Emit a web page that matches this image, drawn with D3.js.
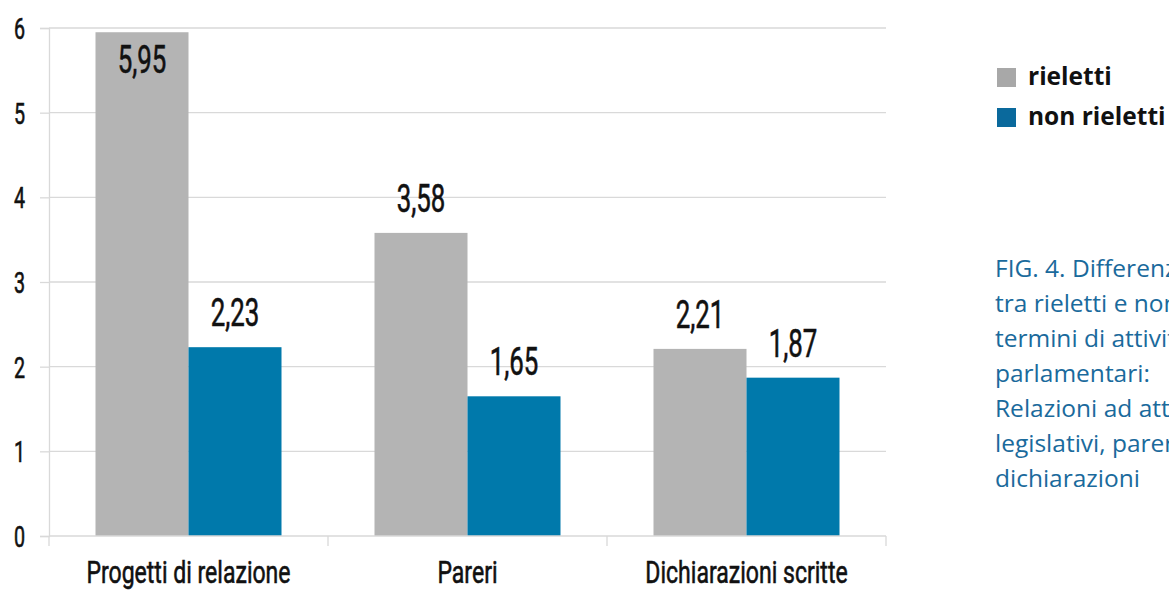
<!DOCTYPE html>
<html>
<head>
<meta charset="utf-8">
<script src="https://cdn.jsdelivr.net/npm/d3@7"></script>
<style>
  body { margin: 0; background: #fff; overflow: hidden; }
  svg { display: block; }
  .cond { font-family: Roboto, "DejaVu Sans", sans-serif; font-weight: 400; fill: #111; stroke: #111; stroke-width: 0.6px; }
</style>
</head>
<body>
<div id="chart"></div>
<script>
`use strict`;

const categories = [`Progetti di relazione`, `Pareri`, `Dichiarazioni scritte`];
const series = [`rieletti`, `non rieletti`];
const rieletti = [5.95, 3.58, 2.21];
const nonRieletti = [2.23, 1.65, 1.87];
const yTicks = [0, 1, 2, 3, 4, 5, 6];
const captionLines = [
  `FIG. 4. Differenze`,
  `tra rieletti e non rieletti in`,
  `termini di attività`,
  `parlamentari:`,
  `Relazioni ad atti`,
  `legislativi, pareri e`,
  `dichiarazioni`
];

(function () {

  const W = 1169, H = 592;
  const colors = [`#b4b4b4`, `#0079ab`];
  const legendColors = [`#a8a8a8`, `#0a699c`];
  const sx = 0.68; // narrow the glyphs, the original uses a condensed face

  let svg = d3.select(`#chart`).append(`svg`)
    .attr(`width`, W)
    .attr(`height`, H);

  let x = d3.scaleBand()
    .domain(categories)
    .range([49, 886])
    .paddingInner(0)
    .paddingOuter(0);

  let x1 = d3.scaleBand()
    .domain(series)
    .range([x.bandwidth() / 6, x.bandwidth() * 5 / 6]);

  let y = d3.scaleLinear()
    .domain([0, 6])
    .range([536, 28]);

  // gridlines
  svg.append(`g`).selectAll(`line`).data(yTicks.filter(d => d > 0))
    .enter()
    .append(`line`)
    .attr(`x1`, 49).attr(`x2`, 886)
    .attr(`y1`, d => y(d)).attr(`y2`, d => y(d))
    .attr(`stroke`, `#d9d9d9`)
    .attr(`stroke-width`, 1.3);

  // y axis
  let yAxis = svg.append(`g`)
    .attr(`transform`, `translate(49,0)`)
    .call(d3.axisLeft(y).tickValues(yTicks).tickSize(9).tickFormat(d3.format(`d`)));

  yAxis.select(`.domain`).attr(`stroke`, `#d9d9d9`).attr(`stroke-width`, 1.3);
  yAxis.selectAll(`.tick line`).attr(`stroke`, `#d9d9d9`).attr(`stroke-width`, 1.3);
  yAxis.selectAll(`.tick text`)
    .attr(`class`, `cond`)
    .attr(`x`, 0)
    .attr(`dy`, `0.36em`)
    .attr(`transform`, `translate(-24,0) scale(${sx},1)`)
    .style(`font-size`, `29px`)
    .attr(`fill`, `#111`);

  // bars
  let rows = categories.map((c, i) => ({ cat: c, vals: [rieletti[i], nonRieletti[i]] }));

  let groups = svg.append(`g`).selectAll(`g`).data(rows)
    .enter()
    .append(`g`)
    .attr(`transform`, d => `translate(${x(d.cat)},0)`);

  let cells = d => d.vals.map((v, j) => ({ s: series[j], v: v, j: j }));

  groups.selectAll(`rect`).data(cells)
    .enter()
    .append(`rect`)
    .attr(`x`, d => x1(d.s))
    .attr(`width`, x1.bandwidth())
    .attr(`y`, d => y(d.v))
    .attr(`height`, d => y(0) - y(d.v))
    .attr(`fill`, d => colors[d.j]);

  groups.selectAll(`text`).data(cells)
    .enter()
    .append(`text`)
    .attr(`class`, `cond`)
    .attr(`transform`, d => {
      let ty = y(d.v) - 48 < 0 ? y(d.v) + 41 : y(d.v) - 21;
      return `translate(${x1(d.s) + x1.bandwidth() / 2},${ty}) scale(${sx},1)`;
    })
    .attr(`text-anchor`, `middle`)
    .style(`font-size`, `38px`)
    .text(d => d3.format(`.2f`)(d.v).replace(`.`, `,`));

  // x axis
  let xAxis = svg.append(`g`)
    .attr(`transform`, `translate(0,536)`);

  xAxis.append(`line`)
    .attr(`x1`, 49).attr(`x2`, 886)
    .attr(`stroke`, `#d9d9d9`).attr(`stroke-width`, 1.3);

  xAxis.selectAll(`line.tk`).data([49, x(categories[1]), x(categories[2]), 886])
    .enter()
    .append(`line`)
    .attr(`class`, `tk`)
    .attr(`x1`, d => d).attr(`x2`, d => d)
    .attr(`y1`, 0).attr(`y2`, 10)
    .attr(`stroke`, `#d9d9d9`).attr(`stroke-width`, 1.3);

  xAxis.selectAll(`text`).data(categories)
    .enter()
    .append(`text`)
    .attr(`class`, `cond`)
    .attr(`transform`, d => `translate(${x(d) + x.bandwidth() / 2},47) scale(0.72,1)`)
    .attr(`text-anchor`, `middle`)
    .style(`font-size`, `32px`)
    .text(d => d);

  // legend
  let legend = svg.append(`g`).selectAll(`g`).data(series)
    .enter()
    .append(`g`)
    .attr(`transform`, (d, i) => `translate(997,${68 + i * 40})`);

  legend.append(`rect`)
    .attr(`width`, 19).attr(`height`, 19)
    .attr(`fill`, (d, i) => legendColors[i]);

  legend.append(`text`)
    .attr(`x`, 31).attr(`y`, 17)
    .style(`font-family`, `"Open Sans", sans-serif`)
    .style(`font-weight`, `bold`)
    .style(`font-size`, `24.5px`)
    .attr(`fill`, `#111`)
    .text(d => d);

  // caption
  let caption = svg.append(`text`)
    .style(`font-family`, `"Open Sans", "Noto Sans", sans-serif`)
    .style(`font-size`, `24.5px`)
    .attr(`fill`, `#1a6a9c`);

  caption.selectAll(`tspan`).data(captionLines)
    .enter()
    .append(`tspan`)
    .attr(`x`, 995)
    .attr(`y`, (d, i) => 277 + i * 35)
    .text(d => d);

})();
</script>
</body>
</html>
